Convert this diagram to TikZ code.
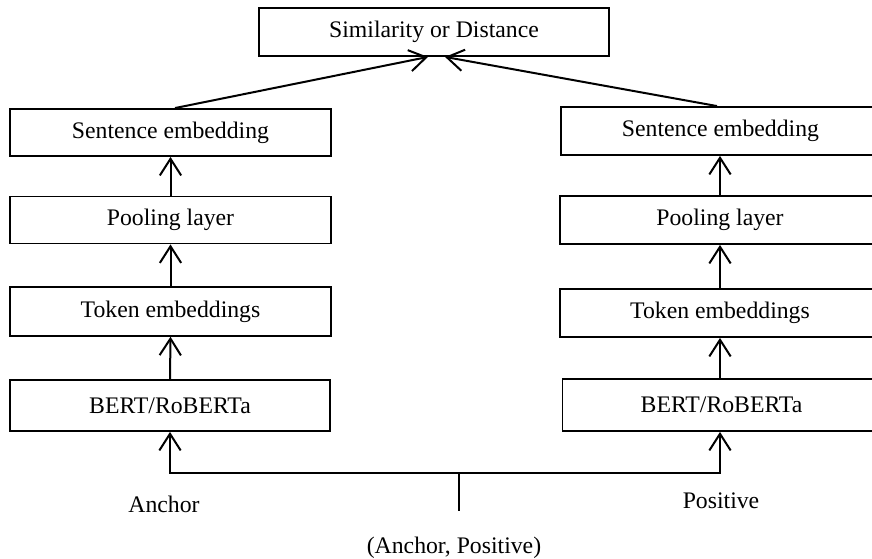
\documentclass[tikz,border=0pt]{standalone}
\usepackage{fontspec}
\setmainfont{Liberation Serif}
\usetikzlibrary{arrows.meta}
\begin{document}
\begin{tikzpicture}[x=0.75pt,y=-0.75pt,
  box/.style={draw,line width=1.4pt,rectangle,inner sep=0pt,font=\fontsize{17.8}{20}\selectfont},
  lbl/.style={inner sep=0pt,font=\fontsize{17.8}{20}\selectfont},
  arr/.style={line width=1.5pt,-{Straight Barb[length=12.5pt,width=16pt,line width=1.5pt]}},
  ln/.style={line width=1.5pt}]
\clip (0,0) rectangle (872,559);
\fill[white] (0,0) rectangle (872,559);
% top
\node[box,minimum width=262.5pt,minimum height=36pt] (top) at (434,32) {Similarity or Distance};
% left column
\node[box,minimum width=240.75pt,minimum height=35.25pt] (lsent) at (170.5,132.5) {Sentence embedding};
\node[box,minimum width=240.75pt,minimum height=35.25pt] (lpool) at (170.5,220) {Pooling layer};
\node[box,minimum width=240.75pt,minimum height=36.5pt] (ltok) at (170.5,311.5) {Token embeddings};
\node[box,minimum width=240pt,minimum height=38.25pt] (lbert) at (170,405.5) {BERT/RoBERTa};
% right column
\node[box,minimum width=239.25pt,minimum height=36pt] (rsent) at (720.5,131) {Sentence embedding};
\node[box,minimum width=240pt,minimum height=36pt] (rpool) at (720,220) {Pooling layer};
\node[box,minimum width=240pt,minimum height=36pt] (rtok) at (720,313) {Token embeddings};
\node[box,minimum width=238.5pt,minimum height=39pt] (rbert) at (721.5,405) {BERT/RoBERTa};
% labels
\node[lbl] (anchor) at (164,504) {Anchor};
\node[lbl] (positive) at (721,501) {Positive};
\node[lbl] (pair) at (454,548) {(Anchor, Positive)};
% connectors
\draw[arr] (lbert.north) -- (ltok.south);
\draw[arr] (ltok.north) -- (lpool.south);
\draw[arr] (lpool.north) -- (lsent.south);
\draw[arr] (rbert.north -| 720,0) -- (rtok.south -| 720,0);
\draw[arr] (rtok.north -| 720,0) -- (rpool.south -| 720,0);
\draw[arr] (rpool.north -| 720,0) -- (rsent.south -| 720,0);
\draw[arr] (lsent.north -| 175,0) -- (top.south -| 428,0);
\draw[arr] (rsent.north -| 717,0) -- (top.south -| 445,0);
\coordinate (split) at (459,473);
\coordinate (stem) at (459,511);
\draw[ln] (stem) -- (split);
\draw[arr] (split) -| (lbert.south);
\draw[arr] (split) -| (rbert.south -| 720,0);
\end{tikzpicture}
\end{document}
